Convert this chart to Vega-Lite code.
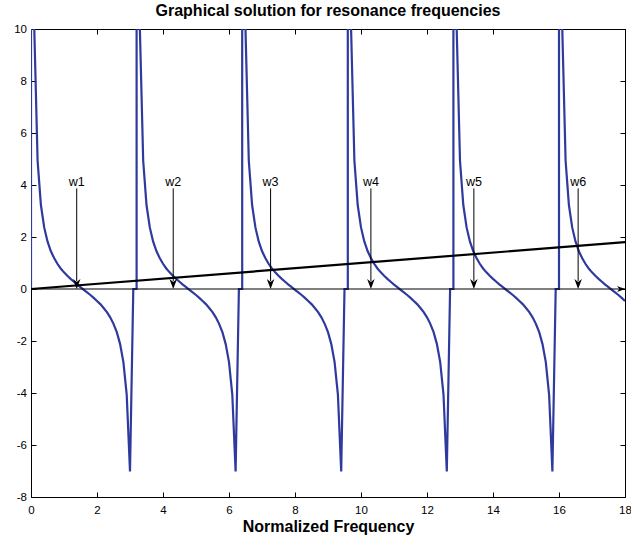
{
  "$schema": "https://vega.github.io/schema/vega-lite/v6.json",
  "width": 594,
  "height": 468,
  "autosize": "none",
  "padding": {"left": 31, "top": 29, "right": 6, "bottom": 44},
  "background": "white",
  "title": {
    "text": "Graphical solution for resonance frequencies",
    "font": "Liberation Sans",
    "fontSize": 16,
    "fontWeight": "bold",
    "color": "black",
    "anchor": "middle",
    "baseline": "bottom",
    "offset": 2,
    "dy": 14
  },
  "config": {
    "view": {"stroke": null},
    "axis": {
      "grid": false,
      "domainColor": "black",
      "domainWidth": 1,
      "tickColor": "black",
      "tickWidth": 1,
      "tickSize": -5,
      "labelColor": "black",
      "labelFont": "Liberation Sans",
      "labelFontSize": 11.5,
      "labelFlush": false,
      "labelOverlap": false,
      "labelBound": false,
      "labelExpr": "'' + datum.value",
      "titleColor": "black",
      "titleFont": "Liberation Sans"
    }
  },
  "resolve": {"axis": {"x": "independent", "y": "independent"}},
  "datasets": {
    "curve": [
      {"x":0,"y":0},{"x":0,"y":10.2},{"x":0.1,"y":9.97},{"x":0.2,"y":4.93},{"x":0.3,"y":3.23},{"x":0.4,"y":2.37},{"x":0.5,"y":1.83},{"x":0.6,"y":1.46},{"x":0.7,"y":1.19},{"x":0.8,"y":0.97},{"x":0.9,"y":0.79},{"x":1.0,"y":0.64},{"x":1.1,"y":0.51},{"x":1.2,"y":0.39},{"x":1.3,"y":0.28},{"x":1.4,"y":0.17},{"x":1.5,"y":0.07},{"x":1.6,"y":-0.03},{"x":1.7,"y":-0.13},{"x":1.8,"y":-0.23},{"x":1.9,"y":-0.34},{"x":2.0,"y":-0.46},{"x":2.1,"y":-0.58},{"x":2.2,"y":-0.73},{"x":2.3,"y":-0.89},{"x":2.4,"y":-1.09},{"x":2.5,"y":-1.34},{"x":2.6,"y":-1.66},{"x":2.7,"y":-2.12},{"x":2.8,"y":-2.81},{"x":2.9,"y":-4.06},{"x":3.0,"y":-7.02},{"x":3.1,"y":0},
      {"x":3.2,"y":0},{"x":3.2,"y":10.2},{"x":3.3,"y":9.97},{"x":3.4,"y":4.93},{"x":3.5,"y":3.23},{"x":3.6,"y":2.37},{"x":3.7,"y":1.83},{"x":3.8,"y":1.46},{"x":3.9,"y":1.19},{"x":4.0,"y":0.97},{"x":4.1,"y":0.79},{"x":4.2,"y":0.64},{"x":4.3,"y":0.51},{"x":4.4,"y":0.39},{"x":4.5,"y":0.28},{"x":4.6,"y":0.17},{"x":4.7,"y":0.07},{"x":4.8,"y":-0.03},{"x":4.9,"y":-0.13},{"x":5.0,"y":-0.23},{"x":5.1,"y":-0.34},{"x":5.2,"y":-0.46},{"x":5.3,"y":-0.58},{"x":5.4,"y":-0.73},{"x":5.5,"y":-0.89},{"x":5.6,"y":-1.09},{"x":5.7,"y":-1.34},{"x":5.8,"y":-1.66},{"x":5.9,"y":-2.12},{"x":6.0,"y":-2.81},{"x":6.1,"y":-4.06},{"x":6.2,"y":-7.02},{"x":6.3,"y":0},
      {"x":6.4,"y":0},{"x":6.4,"y":10.2},{"x":6.5,"y":9.97},{"x":6.6,"y":4.93},{"x":6.7,"y":3.23},{"x":6.8,"y":2.37},{"x":6.9,"y":1.83},{"x":7.0,"y":1.46},{"x":7.1,"y":1.19},{"x":7.2,"y":0.97},{"x":7.3,"y":0.79},{"x":7.4,"y":0.64},{"x":7.5,"y":0.51},{"x":7.6,"y":0.39},{"x":7.7,"y":0.28},{"x":7.8,"y":0.17},{"x":7.9,"y":0.07},{"x":8.0,"y":-0.03},{"x":8.1,"y":-0.13},{"x":8.2,"y":-0.23},{"x":8.3,"y":-0.34},{"x":8.4,"y":-0.46},{"x":8.5,"y":-0.58},{"x":8.6,"y":-0.73},{"x":8.7,"y":-0.89},{"x":8.8,"y":-1.09},{"x":8.9,"y":-1.34},{"x":9.0,"y":-1.66},{"x":9.1,"y":-2.12},{"x":9.2,"y":-2.81},{"x":9.3,"y":-4.06},{"x":9.4,"y":-7.02},{"x":9.5,"y":0},
      {"x":9.6,"y":0},{"x":9.6,"y":10.2},{"x":9.7,"y":9.97},{"x":9.8,"y":4.93},{"x":9.9,"y":3.23},{"x":10.0,"y":2.37},{"x":10.1,"y":1.83},{"x":10.2,"y":1.46},{"x":10.3,"y":1.19},{"x":10.4,"y":0.97},{"x":10.5,"y":0.79},{"x":10.6,"y":0.64},{"x":10.7,"y":0.51},{"x":10.8,"y":0.39},{"x":10.9,"y":0.28},{"x":11.0,"y":0.17},{"x":11.1,"y":0.07},{"x":11.2,"y":-0.03},{"x":11.3,"y":-0.13},{"x":11.4,"y":-0.23},{"x":11.5,"y":-0.34},{"x":11.6,"y":-0.46},{"x":11.7,"y":-0.58},{"x":11.8,"y":-0.73},{"x":11.9,"y":-0.89},{"x":12.0,"y":-1.09},{"x":12.1,"y":-1.34},{"x":12.2,"y":-1.66},{"x":12.3,"y":-2.12},{"x":12.4,"y":-2.81},{"x":12.5,"y":-4.06},{"x":12.6,"y":-7.02},{"x":12.7,"y":0},
      {"x":12.8,"y":0},{"x":12.8,"y":10.2},{"x":12.9,"y":9.97},{"x":13.0,"y":4.93},{"x":13.1,"y":3.23},{"x":13.2,"y":2.37},{"x":13.3,"y":1.83},{"x":13.4,"y":1.46},{"x":13.5,"y":1.19},{"x":13.6,"y":0.97},{"x":13.7,"y":0.79},{"x":13.8,"y":0.64},{"x":13.9,"y":0.51},{"x":14.0,"y":0.39},{"x":14.1,"y":0.28},{"x":14.2,"y":0.17},{"x":14.3,"y":0.07},{"x":14.4,"y":-0.03},{"x":14.5,"y":-0.13},{"x":14.6,"y":-0.23},{"x":14.7,"y":-0.34},{"x":14.8,"y":-0.46},{"x":14.9,"y":-0.58},{"x":15.0,"y":-0.73},{"x":15.1,"y":-0.89},{"x":15.2,"y":-1.09},{"x":15.3,"y":-1.34},{"x":15.4,"y":-1.66},{"x":15.5,"y":-2.12},{"x":15.6,"y":-2.81},{"x":15.7,"y":-4.06},{"x":15.8,"y":-7.02},{"x":15.9,"y":0},
      {"x":16.0,"y":0},{"x":16.0,"y":10.2},{"x":16.1,"y":9.97},{"x":16.2,"y":4.93},{"x":16.3,"y":3.23},{"x":16.4,"y":2.37},{"x":16.5,"y":1.83},{"x":16.6,"y":1.46},{"x":16.7,"y":1.19},{"x":16.8,"y":0.97},{"x":16.9,"y":0.79},{"x":17.0,"y":0.64},{"x":17.1,"y":0.51},{"x":17.2,"y":0.39},{"x":17.3,"y":0.28},{"x":17.4,"y":0.17},{"x":17.5,"y":0.07},{"x":17.6,"y":-0.03},{"x":17.7,"y":-0.13},{"x":17.8,"y":-0.23},{"x":17.9,"y":-0.34},{"x":18.0,"y":-0.46}
    ],
    "slope": [{"x": 0, "y": 0}, {"x": 18, "y": 1.8}],
    "marks": [
      {"w": "w1", "x": 1.385},
      {"w": "w2", "x": 4.31},
      {"w": "w3", "x": 7.26},
      {"w": "w4", "x": 10.3},
      {"w": "w5", "x": 13.42},
      {"w": "w6", "x": 16.58}
    ]
  },
  "layer": [
    {
      "data": {"name": "curve"},
      "mark": {"type": "line", "color": "#2f3a9e", "strokeWidth": 2.2, "clip": true},
      "encoding": {
        "x": {"field": "x", "type": "quantitative", "scale": {"domain": [0, 18], "nice": false, "zero": false},
              "axis": {"orient": "bottom", "values": [0,2,4,6,8,10,12,14,16,18], "labelPadding": 12.5,
                       "title": "Normalized Frequency", "titleFontSize": 16, "titleFontWeight": "bold",
                       "titleBaseline": "alphabetic", "titleY": 34}},
        "y": {"field": "y", "type": "quantitative", "scale": {"domain": [-8, 10], "nice": false, "zero": false},
              "axis": {"orient": "left", "values": [-8,-6,-4,-2,0,2,4,6,8,10], "labelPadding": 9.5, "title": null}}
      }
    },
    {
      "data": {"name": "slope"},
      "mark": {"type": "line", "color": "black", "strokeWidth": 2.2, "clip": true},
      "encoding": {
        "x": {"field": "x", "type": "quantitative", "scale": {"domain": [0, 18], "nice": false, "zero": false},
              "axis": {"orient": "top", "values": [0,2,4,6,8,10,12,14,16,18], "labels": false, "title": null}},
        "y": {"field": "y", "type": "quantitative", "scale": {"domain": [-8, 10], "nice": false, "zero": false},
              "axis": {"orient": "right", "values": [-8,-6,-4,-2,0,2,4,6,8,10], "labels": false, "title": null}}
      }
    },
    {
      "data": {"values": [{}]},
      "mark": {"type": "rule", "color": "black", "strokeWidth": 1.2},
      "encoding": {
        "x": {"datum": 0, "type": "quantitative", "axis": null},
        "x2": {"datum": 18},
        "y": {"datum": 0, "type": "quantitative", "axis": null}
      }
    },
    {
      "data": {"values": [{}]},
      "mark": {"type": "point", "shape": "M0,0L-2,-0.75L-1.4,0L-2,0.75Z", "size": 64, "filled": true, "color": "black", "opacity": 1},
      "encoding": {
        "x": {"datum": 18, "type": "quantitative", "axis": null},
        "y": {"datum": 0, "type": "quantitative", "axis": null}
      }
    },
    {
      "data": {"name": "marks"},
      "mark": {"type": "rule", "color": "black", "strokeWidth": 1},
      "encoding": {
        "x": {"field": "x", "type": "quantitative", "axis": null},
        "y": {"datum": 3.87, "type": "quantitative", "axis": null},
        "y2": {"datum": 0.3}
      }
    },
    {
      "data": {"name": "marks"},
      "mark": {"type": "point", "shape": "M0,0L-0.75,-2L0,-1.4L0.75,-2Z", "size": 100, "filled": true, "color": "black", "opacity": 1},
      "encoding": {
        "x": {"field": "x", "type": "quantitative", "axis": null},
        "y": {"datum": 0, "type": "quantitative", "axis": null}
      }
    },
    {
      "data": {"name": "marks"},
      "mark": {"type": "text", "font": "Liberation Sans", "fontSize": 12.5, "color": "black", "align": "center", "baseline": "alphabetic"},
      "encoding": {
        "x": {"field": "x", "type": "quantitative", "axis": null},
        "y": {"datum": 3.97, "type": "quantitative", "axis": null},
        "text": {"field": "w"}
      }
    }
  ]
}
